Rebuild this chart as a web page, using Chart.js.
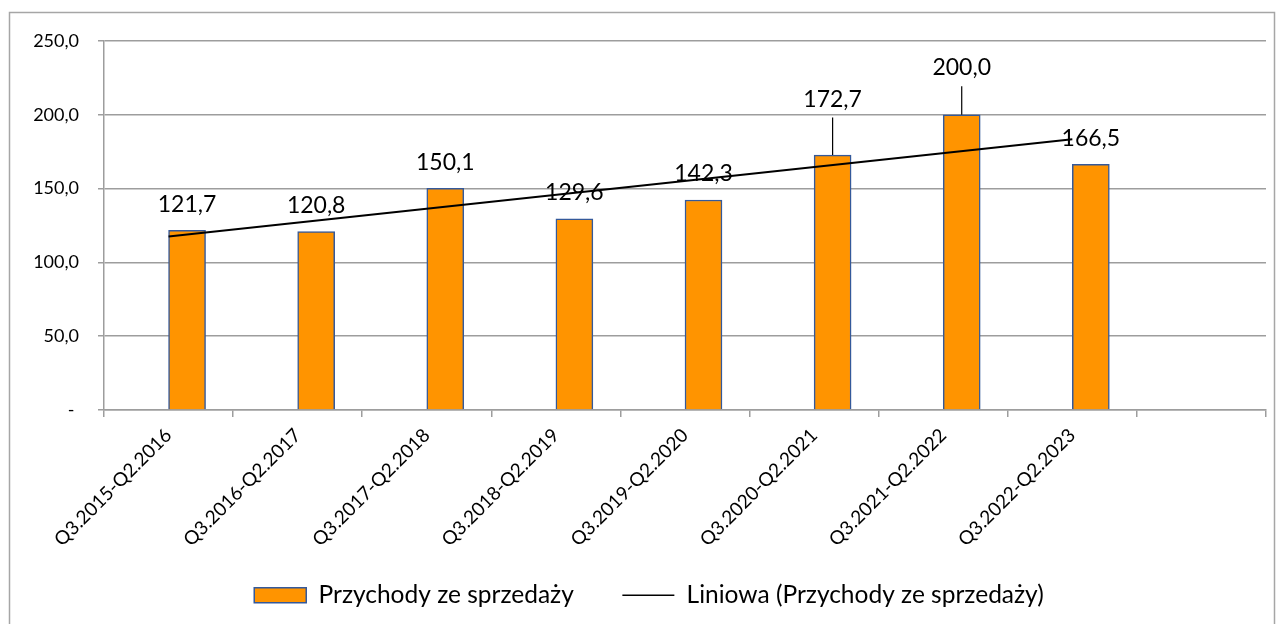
<!DOCTYPE html>
<html>
<head>
<meta charset="utf-8">
<script src="https://cdn.jsdelivr.net/npm/chart.js@4.4.1/dist/chart.umd.min.js"></script>
<style>
  html, body { margin: 0; padding: 0; background: #fff; }
  #wrap { width: 1284px; height: 624px; }
</style>
</head>
<body>
<div id="wrap"><canvas id="chart"></canvas></div>
<script>
const periods = [
  "Q3.2015-Q2.2016",
  "Q3.2016-Q2.2017",
  "Q3.2017-Q2.2018",
  "Q3.2018-Q2.2019",
  "Q3.2019-Q2.2020",
  "Q3.2020-Q2.2021",
  "Q3.2021-Q2.2022",
  "Q3.2022-Q2.2023",
  "",
];
const revenue = [121.7, 120.8, 150.1, 129.6, 142.3, 172.7, 200.0, 166.5, null];
// linear trend at first and last period
const trend = [117.5, null, null, null, null, null, null, 183.4, null];
const spacer = [null, null, null, null, null, null, null, null, null];

const BAR_LABEL = "Przychody ze sprzedaży";
const TREND_LABEL = "Liniowa (Przychody ze sprzedaży)";
const ORANGE = "#FF9400";
const BAR_BORDER = "#34599A";
const GRID = "#9d9d9d";
const FONT = "Lato";

function plNumber(v) {
  return v.toFixed(1).replace(".", ",");
}

// white background + outer frame like the spreadsheet chart
const framePlugin = {
  id: "frame",
  beforeDraw(chart) {
    const ctx = chart.ctx;
    ctx.save();
    ctx.fillStyle = "#fff";
    ctx.fillRect(0, 0, chart.width, chart.height);
    ctx.strokeStyle = "#a6a6a6";
    ctx.lineWidth = 1.5;
    ctx.strokeRect(9.5, 12.5, 1265, 700);
    ctx.restore();
  },
};

// value labels above the bars, two of them lifted with a leader line
const barLabels = {
  id: "barLabels",
  afterDatasetsDraw(chart, args, opts) {
    const ctx = chart.ctx;
    const meta = chart.getDatasetMeta(1);
    ctx.save();
    ctx.font = `23px ${FONT}`;
    ctx.fillStyle = "#000";
    ctx.textAlign = "center";
    ctx.textBaseline = "alphabetic";
    meta.data.forEach((bar, i) => {
      const v = revenue[i];
      if (v === null) return;
      const lift = opts.lift[i] || 0;
      const base = bar.y - 18.5 - lift;
      ctx.fillText(plNumber(v), bar.x, base);
      if (lift) {
        ctx.strokeStyle = "#000";
        ctx.lineWidth = 1.2;
        ctx.beginPath();
        ctx.moveTo(bar.x, base + 11);
        ctx.lineTo(bar.x, bar.y);
        ctx.stroke();
      }
    });
    ctx.restore();
  },
};

const ctx = document.getElementById("chart").getContext("2d");
new Chart(ctx, {
  type: "bar",
  data: {
    labels: periods,
    datasets: [
      {
        type: "line",
        label: TREND_LABEL,
        data: trend,
        borderColor: "#000",
        borderWidth: 2,
        pointRadius: 0,
        spanGaps: true,
        fill: false,
        order: -1,
      },
      {
        label: BAR_LABEL,
        data: revenue,
        backgroundColor: ORANGE,
        borderColor: BAR_BORDER,
        borderWidth: 1.5,
        barThickness: 37,
        order: 1,
      },
      {
        label: "spacer",
        data: spacer,
        barThickness: 37,
        order: 0,
      },
    ],
  },
  options: {
    responsive: true,
    maintainAspectRatio: false,
    animation: false,
    layout: {
      padding: { left: 32, top: 41, right: 18, bottom: 6.5 },
    },
    scales: {
      x: {
        grid: {
          display: true,
          drawOnChartArea: false,
          drawTicks: true,
          tickLength: 7,
          color: GRID,
          lineWidth: 1.5,
        },
        border: { color: GRID, width: 1.5 },
        ticks: {
          color: "#000",
          padding: 7,
          font: { family: FONT, size: 19 },
          minRotation: 45,
          maxRotation: 45,
          autoSkip: false,
        },
        afterFit(scale) {
          scale.height = 137;
        },
      },
      y: {
        min: 0,
        max: 250,
        grid: {
          color: GRID,
          lineWidth: 1.5,
          tickLength: 6,
        },
        border: { color: GRID, width: 1.5 },
        ticks: {
          stepSize: 50,
          padding: 19,
          color: "#000",
          font: { family: FONT, size: 18 },
          callback: (v) => (v === 0 ? "- " : plNumber(v)),
        },
        afterFit(scale) {
          scale.width = 72;
        },
      },
    },
    plugins: {
      tooltip: { enabled: false },
      barLabels: { lift: [0, 0, 0, 0, 0, 30, 21, 0] },
      legend: {
        position: "bottom",
        labels: {
          usePointStyle: true,
          pointStyleWidth: 52,
          boxHeight: 15,
          padding: 36,
          color: "#000",
          font: { family: FONT, size: 24.5 },
          generateLabels() {
            return [
              {
                text: BAR_LABEL + "  ",
                pointStyle: "rect",
                fillStyle: ORANGE,
                strokeStyle: BAR_BORDER,
                lineWidth: 1.5,
                datasetIndex: 1,
              },
              {
                text: TREND_LABEL,
                pointStyle: "line",
                fillStyle: "#000",
                strokeStyle: "#000",
                lineWidth: 1.5,
                datasetIndex: 0,
              },
            ];
          },
        },
      },
    },
  },
  plugins: [framePlugin, barLabels],
});
</script>
</body>
</html>
